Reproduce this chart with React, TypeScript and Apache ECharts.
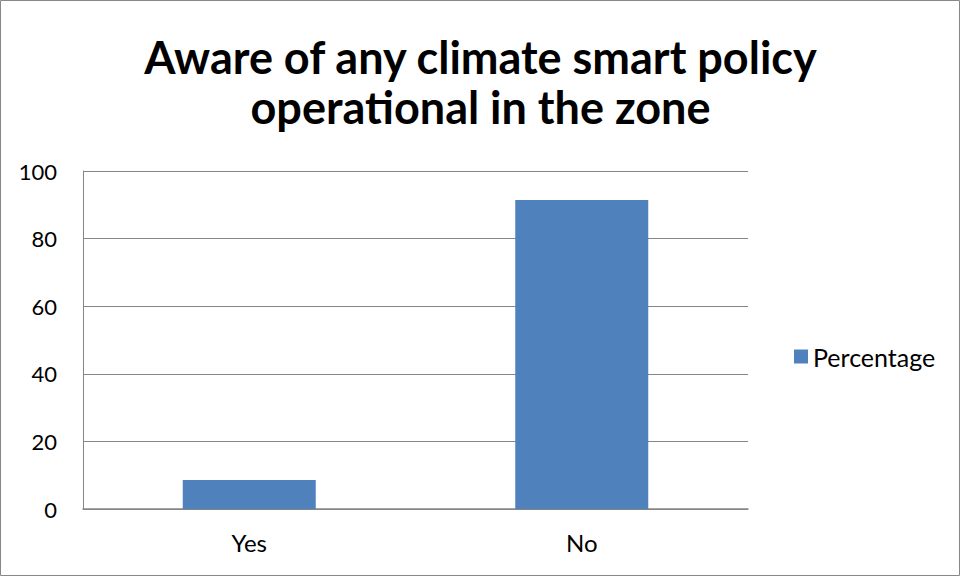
import React, { useEffect, useRef } from "react";
import * as echarts from "echarts";

const titleLines = ["Aware of any climate smart policy", "operational in the zone"];
const categories = ["Yes", "No"];
const seriesName = "Percentage";
const values = [8.6, 91.4];
const yTicks = [0, 20, 40, 60, 80, 100];

export default function App() {
  const ref = useRef<HTMLDivElement>(null);
  useEffect(() => {
    if (!ref.current) return;
    const chart = echarts.init(ref.current, null, { renderer: "svg" });
    const font = "Lato, 'Open Sans', sans-serif";
    chart.setOption({
      animation: false,
      backgroundColor: "#fff",
      title: {
        text: titleLines.join("\n"),
        left: "center",
        top: 27,
        textStyle: { fontFamily: font, fontWeight: "bold", fontSize: 45, lineHeight: 50, color: "#000" },
      },
      legend: {
        data: [seriesName],
        left: 789,
        top: 339,
        itemWidth: 14,
        itemHeight: 14,
        itemGap: 8,
        icon: "rect",
        textStyle: { fontFamily: font, fontSize: 25, color: "#000" },
      },
      graphic: [
        {
          type: "rect",
          shape: { x: 0.5, y: 0.5, width: 959, height: 575 },
          style: { fill: "none", stroke: "#878787", lineWidth: 1 },
        },
      ],
      grid: { left: 83, right: 213, top: 171, bottom: 68 },
      xAxis: {
        type: "category",
        data: categories,
        axisLine: { lineStyle: { color: "#868686", width: 1.5 } },
        axisTick: { show: false },
        axisLabel: { fontFamily: font, fontSize: 24, color: "#000", margin: 21 },
      },
      yAxis: {
        type: "value",
        min: yTicks[0],
        max: yTicks[yTicks.length - 1],
        interval: 20,
        axisLine: { show: true, lineStyle: { color: "#868686" } },
        axisTick: { show: false },
        splitLine: { lineStyle: { color: "#868686" } },
        axisLabel: { fontFamily: font, fontSize: 22, color: "#000", margin: 26 },
      },
      series: [
        {
          name: seriesName,
          type: "bar",
          data: values,
          barWidth: "40%",
          itemStyle: { color: "#4F81BD" },
        },
      ],
    });
    return () => chart.dispose();
  }, []);
  return <div ref={ref} style={{ position: "fixed", left: 0, top: 0, width: 961, height: 577 }} />;
}
